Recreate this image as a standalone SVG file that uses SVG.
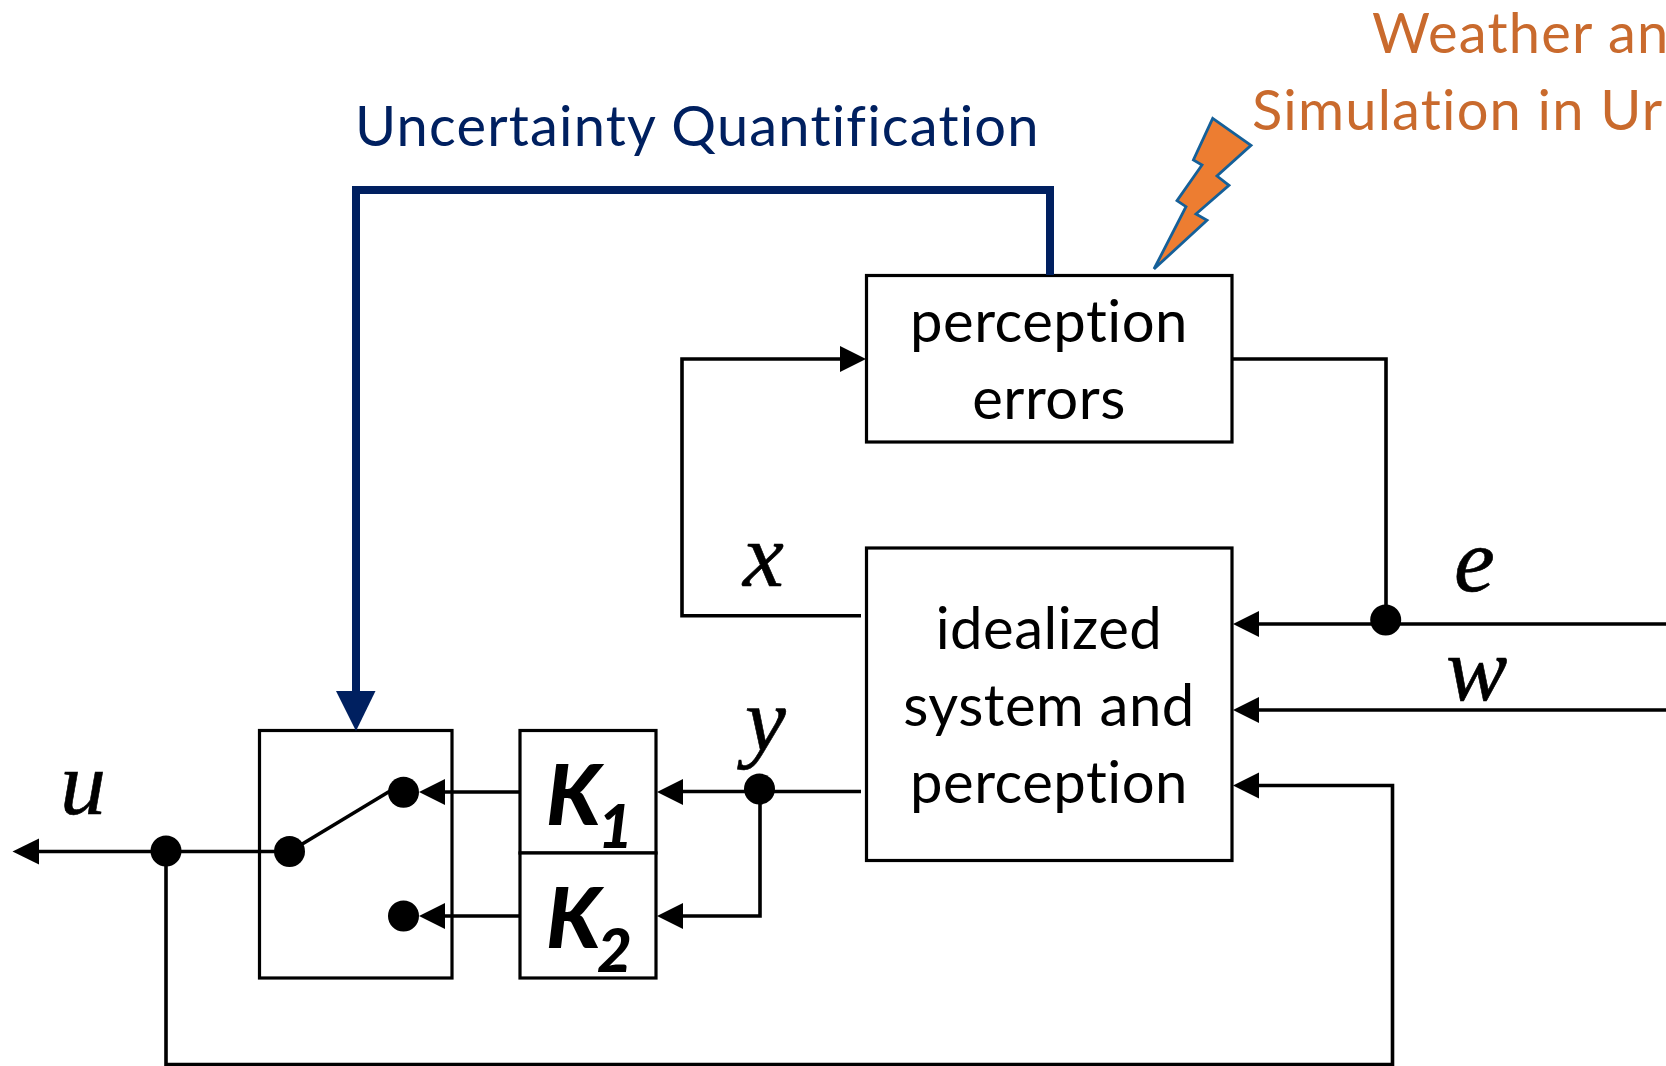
<svg xmlns="http://www.w3.org/2000/svg" width="1666" height="1066" viewBox="0 0 1666 1066">
<style>
text{font-variant-ligatures:none}
.box{fill:#fff;stroke:#000;stroke-width:3.2}
.w{fill:none;stroke:#000;stroke-width:3.6}
.a{fill:#000;stroke:none}
.t{font-family:Lato,"Liberation Sans",sans-serif;font-size:58px;letter-spacing:0.5px;fill:#000;text-anchor:middle}
.m{font-family:"Liberation Serif",serif;font-style:italic;font-size:92px;fill:#000;stroke:#000;stroke-width:0.6}
.k{font-family:Lato,"Liberation Sans",sans-serif;font-style:italic;font-weight:900;fill:#000}
.o{font-family:Lato,"Liberation Sans",sans-serif;font-size:56px;letter-spacing:1.2px;fill:#C96A2D}
</style>
<rect width="1666" height="1066" fill="#fff"/>
<g id="switch"><rect class="box" x="259.5" y="730.5" width="192.5" height="247.500"/></g>
<g id="k1"><rect class="box" x="520" y="730.5" width="136" height="122.500"/><text class="k" x="546" y="825" font-size="84">K</text><text class="k" x="598" y="848" font-size="60">1</text></g>
<g id="k2"><rect class="box" x="520" y="853" width="136" height="125"/><text class="k" x="546" y="948" font-size="84">K</text><text class="k" x="597" y="972" font-size="60">2</text></g>
<g id="perception-errors"><rect class="box" x="866.5" y="275.5" width="365.500" height="166.500"/><text class="t" x="1049" y="342">perception</text><text class="t" x="1049" y="419">errors</text></g>
<g id="idealized"><rect class="box" x="866.500" y="548" width="365.500" height="312.500"/><text class="t" x="1049" y="649">idealized</text><text class="t" x="1049" y="726">system and</text><text class="t" x="1049" y="803">perception</text></g>
<g id="bolt"><polygon points="1212.700,118.300 1251,145.300 1217,176 1229,185.300 1196,214 1207,220.300 1154,269 1186,206.700 1177,200.700 1202,165 1193.400,160" fill="#ED7D31" stroke="#156099" stroke-width="2.800"/></g>
<g id="connectors">
<path d="M1050 275V190H356V695" fill="none" stroke="#002060" stroke-width="8"/>
<polygon points="336,691 375.500,691 356,731" fill="#002060"/>
<path class="w" d="M1232 359H1386V620"/>
<path class="w" d="M861 615.700H682V359H842"/>
<polygon class="a" points="866,359 840,346 840,372"/>
<path class="w" d="M1666 624H1256"/>
<polygon class="a" points="1233,624 1259,611 1259,637"/>
<path class="w" d="M1666 710H1256"/>
<polygon class="a" points="1233,710 1259,697 1259,723"/>
<path class="w" d="M166 851V1064.500H1392.500V785.500H1256"/>
<polygon class="a" points="1233,785.500 1259,772.500 1259,798.500"/>
<path class="w" d="M861 791.500H680M760 790V916H680"/>
<polygon class="a" points="657,792 683,779 683,805"/>
<polygon class="a" points="657,916 683,903 683,929"/>
<path class="w" d="M520 792H442M520 916H442"/>
<polygon class="a" points="419,792 445,779 445,805"/>
<polygon class="a" points="419,916 445,903 445,929"/>
<path class="w" d="M289 852L400 785"/>
<path class="w" d="M289 851.500H36"/>
<polygon class="a" points="12.500,851.500 39,838.500 39,864.500"/>
<g class="a"><circle cx="166" cy="851" r="15.500"/><circle cx="289.500" cy="851.500" r="15.500"/><circle cx="403.500" cy="792.300" r="15.500"/><circle cx="403.500" cy="916" r="15.500"/><circle cx="759.500" cy="789" r="15.500"/><circle cx="1385.700" cy="620" r="15.500"/></g>
</g>
<g id="labels">
<text x="355" y="146" font-family="Lato,'Liberation Sans',sans-serif" font-size="56" letter-spacing="1.200" fill="#002060">Uncertainty Quantification</text>
<text class="o" x="1372" y="53">Weather an</text>
<text class="o" x="1252" y="130">Simulation in Ur</text>
<text class="m" x="60" y="814">u</text>
<text class="m" x="743" y="586">x</text>
<text class="m" x="745" y="751">y</text>
<text class="m" x="1454" y="591">e</text>
<text class="m" x="1446" y="700">w</text>
</g>
</svg>
